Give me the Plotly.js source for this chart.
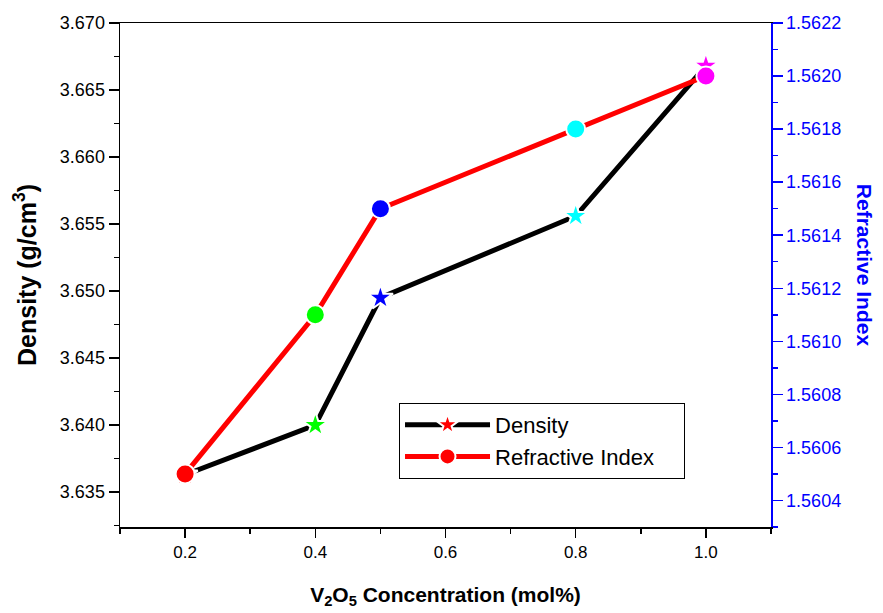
<!DOCTYPE html>
<html>
<head>
<meta charset="utf-8">
<script src="https://cdn.plot.ly/plotly-3.0.1.min.js"></script>
<style>html,body{margin:0;padding:0;background:#fff;}#chart{width:883px;height:613px;}</style>
</head>
<body>
<div id="chart"></div>
<script>
var concentration = [0.2, 0.4, 0.5, 0.8, 1.0];
var density = [3.6363, 3.6400, 3.6495, 3.6556, 3.6668];
var refractiveIndex = [1.5605, 1.5611, 1.5615, 1.5618, 1.5620];
var pointColors = ['#ff0000', '#00ff00', '#0000ff', '#00ffff', '#ff00ff'];
var seriesNames = ['Density', 'Refractive Index'];

var FONT = 'Arial, "Liberation Sans", sans-serif';
var PAD = '\u00a0\u00a0\u00a0\u00a0';

var traces = [
  {
    x: concentration, y: density, name: seriesNames[0] + PAD, type: 'scatter', mode: 'lines+markers',
    line: {color: '#000000', width: 5},
    marker: {symbol: 'star', size: 19, color: pointColors, line: {color: '#ffffff', width: 2}},
    yaxis: 'y'
  },
  {
    x: concentration, y: refractiveIndex, name: seriesNames[1] + PAD, type: 'scatter', mode: 'lines+markers',
    line: {color: '#ff0000', width: 5},
    marker: {symbol: 'circle', size: 19, color: pointColors, line: {color: '#ffffff', width: 2}},
    yaxis: 'y2'
  }
];

var layout = {
  width: 883, height: 613,
  margin: {l: 120, r: 112, t: 23, b: 86},
  paper_bgcolor: '#ffffff', plot_bgcolor: '#ffffff',
  font: {family: FONT, color: '#000000', size: 17},
  showlegend: true,
  legend: {
    x: 0.4286, y: 0.246, xanchor: 'left', yanchor: 'top',
    bordercolor: '#000000', borderwidth: 1, bgcolor: '#ffffff',
    font: {family: FONT, size: 22, color: '#000000'},
    itemwidth: 85, tracegroupgap: 2
  },
  xaxis: {
    range: [0.1, 1.1], tick0: 0.2, dtick: 0.2, tickformat: '.1f',
    showgrid: false, zeroline: false,
    showline: true, linecolor: '#000000', linewidth: 1.5, mirror: true,
    ticks: 'outside', ticklen: 9, tickwidth: 1.5, tickcolor: '#000000',
    minor: {dtick: 0.1, tick0: 0.1, ticks: 'outside', ticklen: 5, tickwidth: 1.5, tickcolor: '#000000', showgrid: false},
    tickfont: {family: FONT, size: 17, color: '#000000'},
    title: {text: '<b>V<sub>2</sub>O<sub>5</sub> Concentration (mol%)</b>', font: {family: FONT, size: 21, color: '#000000'}, standoff: 26}
  },
  yaxis: {
    range: [3.6324, 3.670], tick0: 3.635, dtick: 0.005, tickformat: '.3f',
    showgrid: false, zeroline: false,
    showline: true, linecolor: '#000000', linewidth: 1.5,
    ticks: 'outside', ticklen: 10, tickwidth: 1.5, tickcolor: '#000000',
    minor: {dtick: 0.0025, tick0: 3.635, ticks: 'outside', ticklen: 5, tickwidth: 1.5, tickcolor: '#000000', showgrid: false},
    tickfont: {family: FONT, size: 18, color: '#000000'},
    title: {text: '<b>Density (g/cm<sup>3</sup>)</b>', font: {family: FONT, size: 25, color: '#000000'}, standoff: 16}
  },
  yaxis2: {
    overlaying: 'y', side: 'right', anchor: 'x',
    range: [1.5603, 1.5622], tick0: 1.5604, dtick: 0.0002, tickformat: '.4f',
    showgrid: false, zeroline: false,
    showline: true, linecolor: '#0000ff', linewidth: 1.5,
    ticks: 'outside', ticklen: 10, tickwidth: 1.5, tickcolor: '#0000ff',
    minor: {dtick: 0.0001, tick0: 1.5604, ticks: 'outside', ticklen: 5, tickwidth: 1.5, tickcolor: '#0000ff', showgrid: false},
    tickfont: {family: FONT, size: 18, color: '#0000ff'}
  },
  annotations: [
    {
      text: '<b>Refractive Index</b>', xref: 'paper', yref: 'paper',
      x: 1.143, y: 0.52, xanchor: 'center', yanchor: 'middle', textangle: 90,
      showarrow: false, font: {family: FONT, size: 21, color: '#0000ff'}
    }
  ]
};

Plotly.newPlot('chart', traces, layout, {staticPlot: true, displayModeBar: false});
</script>
</body>
</html>
